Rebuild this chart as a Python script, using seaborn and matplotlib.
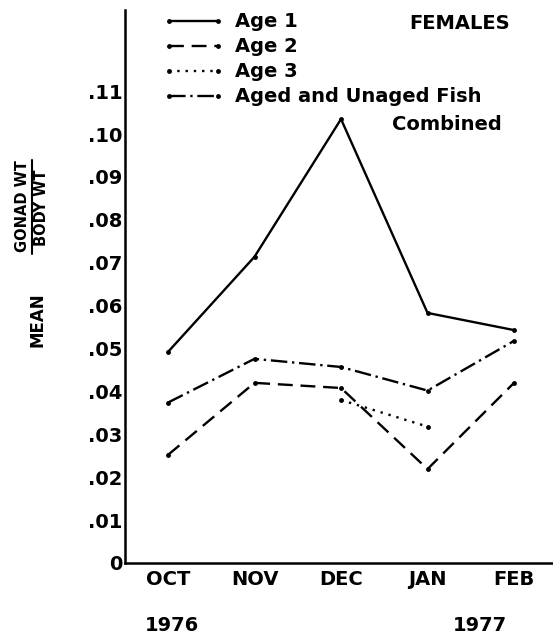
import numpy as np
import pandas as pd
import matplotlib.pyplot as plt
import seaborn as sns
from matplotlib.lines import Line2D

# dati
mesi = ["OCT", "NOV", "DEC", "JAN", "FEB"]
age1 = [0.0492, 0.0714, 0.1035, 0.0583, 0.0543]
age2 = [0.0252, 0.0420, 0.0408, 0.0219, 0.0420]
age3_mesi = ["DEC", "JAN"]
age3 = [0.0380, 0.0318]
combined = [0.0374, 0.0476, 0.0457, 0.0402, 0.0518]

serie = ["Age 1", "Age 2", "Age 3", "Aged and Unaged Fish"]
yticks = [0, .01, .02, .03, .04, .05, .06, .07, .08, .09, .10, .11]
ylabels = ["0", ".01", ".02", ".03", ".04", ".05", ".06", ".07", ".08", ".09", ".10", ".11"]

df = pd.concat([
    pd.DataFrame({"mese": mesi, "valore": age1, "serie": serie[0]}),
    pd.DataFrame({"mese": mesi, "valore": age2, "serie": serie[1]}),
    pd.DataFrame({"mese": age3_mesi, "valore": age3, "serie": serie[2]}),
    pd.DataFrame({"mese": mesi, "valore": combined, "serie": serie[3]}),
])

sns.set_style("white")
plt.rcParams["font.family"] = ["DejaVu Sans"]
plt.rcParams["font.weight"] = "bold"
for k in ["text.color", "axes.labelcolor", "xtick.color", "ytick.color"]:
    plt.rcParams[k] = "black"

fs = 14

fig = plt.figure(figsize=(5.53, 6.34), dpi=100)
ax = fig.add_axes([0.226, 0.112, 0.774, 0.872])

stili = {serie[0]: "", serie[1]: (6.3, 3.3), serie[2]: (1, 2.5), serie[3]: (7, 2, 1, 2)}
sns.lineplot(data=df, x="mese", y="valore", style="serie", dashes=stili,
             markers={s: "o" for s in serie}, markersize=3.5, color="black",
             linewidth=1.7, markeredgewidth=0, ax=ax, legend=True)

handles, labels = ax.get_legend_handles_labels()
ax.legend(handles, labels, loc="upper left", bbox_to_anchor=(0.089, 0.996),
          frameon=False, borderpad=0, borderaxespad=0, numpoints=2,
          handlelength=3.1, handletextpad=0.6, labelspacing=0.31,
          prop={"size": fs, "weight": "bold"})

ax.text((502 - 125) / 428, 1 - (124 - 10) / 553, "Combined", transform=ax.transAxes,
        ha="right", va="center", fontsize=fs, fontweight="bold")
ax.text((510 - 125) / 428, 1 - (23 - 10) / 553, "FEMALES", transform=ax.transAxes,
        ha="right", va="center", fontsize=fs, fontweight="bold")

ax.set_xlim(-0.497, 4.45)
ax.set_ylim(0, 0.1289)
ax.set_yticks(yticks)
ax.set_yticklabels(ylabels)
ax.set_xlabel("")
ax.set_ylabel("")

for s in ["top", "right"]:
    ax.spines[s].set_visible(False)
for s in ["left", "bottom"]:
    ax.spines[s].set_linewidth(1.8)
    ax.spines[s].set_color("black")
ax.tick_params(axis="y", direction="in", length=6, width=1.5, pad=2, labelsize=fs)
ax.tick_params(axis="x", direction="in", length=5, width=1.5, pad=5, labelsize=fs)

# anni sotto i mesi
trans = ax.get_xaxis_transform()
ax.text(0.05, -0.113, "1976", transform=trans, ha="center", va="center", fontsize=fs, fontweight="bold")
ax.text(3.6, -0.113, "1977", transform=trans, ha="center", va="center", fontsize=fs, fontweight="bold")

# etichetta asse y: MEAN GONAD WT / BODY WT
fig.text(37 / 553, 1 - 320 / 634, "MEAN", rotation=90, ha="center", va="center", fontsize=12, fontweight="bold")
fig.text(23 / 553, 1 - 206 / 634, "GONAD WT", rotation=90, ha="center", va="center", fontsize=10.5, fontweight="bold")
fig.text(42 / 553, 1 - 208 / 634, "BODY WT", rotation=90, ha="center", va="center", fontsize=10.5, fontweight="bold")
fig.add_artist(Line2D([32 / 553, 32 / 553], [1 - 160 / 634, 1 - 254 / 634],
                      transform=fig.transFigure, color="black", linewidth=1.5))

fig.savefig("out.png", dpi=100)
